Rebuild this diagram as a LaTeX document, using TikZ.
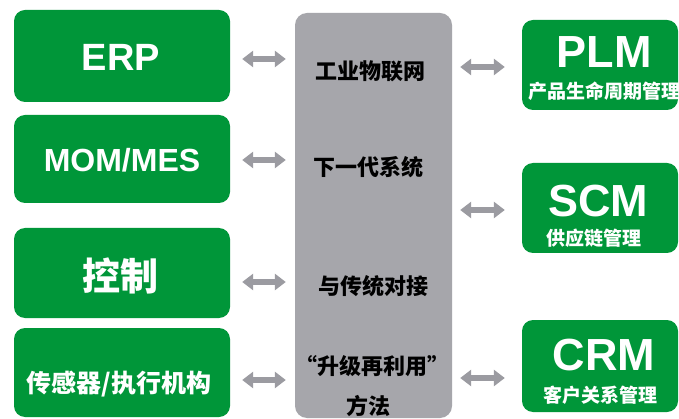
\documentclass[tikz,border=0pt]{standalone}
\usepackage{fontspec}
\setmainfont{Liberation Sans}
\newfontfamily\cjk{Noto Sans CJK SC}
\usetikzlibrary{arrows.meta}
\definecolor{boxgreen}{RGB}{0,150,57}
\definecolor{midgray}{RGB}{166,166,171}
\definecolor{arrgray}{RGB}{155,155,161}
\newcommand{\fs}[1]{\fontsize{#1}{#1}\selectfont}
\tikzset{
  gbox/.style={fill=boxgreen, rounded corners=11pt, draw=none, inner sep=0pt},
  wtxt/.style={text=white, font=\bfseries, inner sep=0pt, anchor=center},
  btxt/.style={text=black, font=\cjk\bfseries\fs{22}, inner sep=0pt, anchor=center},
  dbl/.style={draw=arrgray, line width=6.5pt,
    {Triangle[length=11pt,width=16pt]}-{Triangle[length=11pt,width=16pt]}},
}
\begin{document}
\begin{tikzpicture}[x=1pt,y=-1pt]
\useasboundingbox[fill=white] (0,0) rectangle (679,419);
% middle gray box
\path[fill=midgray, rounded corners=12pt] (295,13) rectangle (452,418);
\node[inner sep=0pt, minimum width=157pt, minimum height=405pt] (mid) at (373.5,215.5) {};
% left boxes
\path[gbox] (14,10) rectangle (230,102);
\node[inner sep=0pt, minimum width=216pt, minimum height=92pt] (erp) at (122,56) {};
\path[gbox] (14,115) rectangle (230,203);
\node[inner sep=0pt, minimum width=216pt, minimum height=88pt] (mom) at (122,159) {};
\path[gbox] (14,228) rectangle (230,318);
\node[inner sep=0pt, minimum width=216pt, minimum height=90pt] (ctl) at (122,273) {};
\path[gbox] (14,328) rectangle (230,417);
\node[inner sep=0pt, minimum width=216pt, minimum height=89pt] (sen) at (122,372.5) {};
% right boxes
\path[gbox] (522,20) rectangle (678,110);
\node[inner sep=0pt, minimum width=156pt, minimum height=90pt] (plm) at (600,65) {};
\path[gbox] (522,163) rectangle (678,253);
\node[inner sep=0pt, minimum width=156pt, minimum height=90pt] (scm) at (600,208) {};
\path[gbox] (522,320) rectangle (678,412);
\node[inner sep=0pt, minimum width=156pt, minimum height=92pt] (crm) at (600,366) {};
% left texts
\node[wtxt, font=\bfseries\fs{38}] (terp) at (121,57) {ERP};
\node[wtxt, font=\bfseries\fs{32}] (tmom) at (122,160) {MOM/MES};
\node[wtxt, font=\cjk\bfseries\fs{38}] (tctl) at (120,276) {控制};
\node[wtxt, font=\cjk\bfseries\fs{25}] (tsen) at (119,384) {传感器/执行机构};
% right texts
\node[wtxt, font=\bfseries\fs{45}] (tplm) at (604,52) {PLM};
\node[wtxt, font=\cjk\bfseries\fs{19}] (splm) at (604,91) {产品生命周期管理};
\node[wtxt, font=\bfseries\fs{45}] (tscm) at (598,201) {SCM};
\node[wtxt, font=\cjk\bfseries\fs{19}] (sscm) at (594,238) {供应链管理};
\node[wtxt, font=\bfseries\fs{45}] (tcrm) at (604,355) {CRM};
\node[wtxt, font=\cjk\bfseries\fs{19}] (scrm) at (600,395) {客户关系管理};
% middle texts
\node[btxt] (m1) at (370,71) {工业物联网};
\node[btxt] (m2) at (368,167) {下一代系统};
\node[btxt] (m3) at (373,286) {与传统对接};
\node[btxt] (m4) at (372,366) {“升级再利用”};
\node[btxt] (m5) at (368,406) {方法};
% arrows left
\draw[dbl, shorten <=12pt, shorten >=9pt] ([yshift=-3pt]erp.east) -- ([yshift=-3pt]erp.east -| mid.west);
\draw[dbl, shorten <=12pt, shorten >=9pt] ([yshift=-1pt]mom.east) -- ([yshift=-1pt]mom.east -| mid.west);
\draw[dbl, shorten <=12pt, shorten >=9pt] ([yshift=-9pt]ctl.east) -- ([yshift=-9pt]ctl.east -| mid.west);
\draw[dbl, shorten <=12pt, shorten >=9pt] ([yshift=-7.5pt]sen.east) -- ([yshift=-7.5pt]sen.east -| mid.west);
% arrows right
\draw[dbl, shorten <=8pt, shorten >=17pt] ([yshift=-2pt]plm.west -| mid.east) -- ([yshift=-2pt]plm.west);
\draw[dbl, shorten <=8pt, shorten >=17pt] ([yshift=-2pt]scm.west -| mid.east) -- ([yshift=-2pt]scm.west);
\draw[dbl, shorten <=8pt, shorten >=17pt] ([yshift=-12pt]crm.west -| mid.east) -- ([yshift=-12pt]crm.west);
\end{tikzpicture}
\end{document}
